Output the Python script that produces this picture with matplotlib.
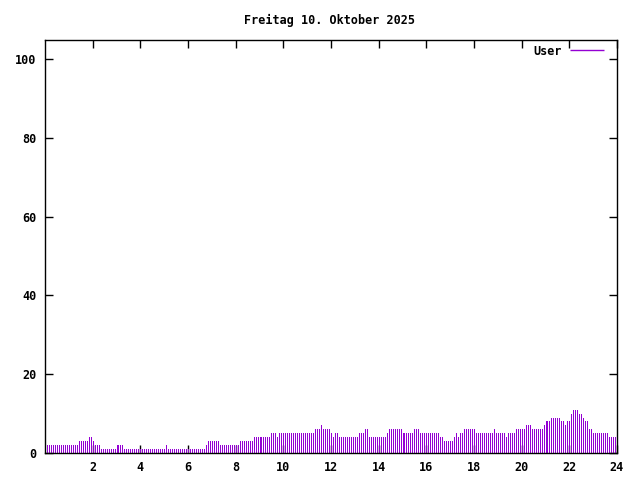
import numpy as np
import matplotlib
matplotlib.use("Agg")
import matplotlib.pyplot as plt

# Werte alle 5 Minuten (12 pro Stunde)
user = [
    2, 2, 2, 2, 2, 2, 2, 2, 2, 2, 2, 2,   # 0 Uhr
    2, 2, 2, 2, 2, 3, 3, 3, 3, 3, 4, 4,   # 1
    3, 2, 2, 2, 1, 1, 1, 1, 1, 1, 1, 1,   # 2
    2, 2, 2, 2, 1, 1, 1, 1, 1, 1, 1, 1,   # 3
    1, 1, 1, 1, 1, 1, 1, 1, 1, 1, 1, 1,   # 4
    1, 2, 1, 1, 1, 1, 1, 1, 1, 1, 1, 1,   # 5
    1, 1, 1, 1, 1, 1, 1, 1, 1, 2, 3, 3,   # 6
    3, 3, 3, 3, 2, 2, 2, 2, 2, 2, 2, 2,   # 7
    2, 2, 3, 3, 3, 3, 3, 3, 3, 4, 4, 4,   # 8
    4, 4, 4, 4, 4, 4, 5, 5, 5, 4, 5, 5,   # 9
    5, 5, 5, 5, 5, 5, 5, 5, 5, 5, 5, 5,   # 10
    5, 5, 5, 5, 6, 6, 6, 7, 6, 6, 6, 6,   # 11
    5, 4, 5, 5, 4, 4, 4, 4, 4, 4, 4, 4,   # 12
    4, 4, 5, 5, 5, 6, 6, 4, 4, 4, 4, 4,   # 13
    4, 4, 4, 4, 5, 6, 6, 6, 6, 6, 6, 6,   # 14
    5, 5, 5, 5, 5, 5, 6, 6, 6, 5, 5, 5,   # 15
    5, 5, 5, 5, 5, 5, 5, 4, 4, 3, 3, 3,   # 16
    3, 3, 4, 5, 4, 5, 5, 6, 6, 6, 6, 6,   # 17
    6, 5, 5, 5, 5, 5, 5, 5, 5, 5, 6, 5,   # 18
    5, 5, 5, 5, 4, 5, 5, 5, 5, 6, 6, 6,   # 19
    6, 6, 7, 7, 7, 6, 6, 6, 6, 6, 6, 7,   # 20
    8, 8, 8, 9, 9, 9, 9, 9, 8, 8, 7, 8,   # 21
    8, 10, 11, 11, 11, 10, 10, 9, 8, 8, 6, 6,  # 22
    5, 5, 5, 5, 5, 5, 5, 5, 4, 4, 4, 4,   # 23
]
hours = np.arange(len(user)) / 12.0

title = "Freitag 10. Oktober 2025"
xticks = list(range(2, 25, 2))
yticks = list(range(0, 101, 20))

plt.rcParams['font.family'] = ['DejaVu Sans Mono']
fig = plt.figure(figsize=(6.4, 4.8), dpi=100)
ax = fig.add_axes([45 / 640, 27 / 480, 572 / 640, 413 / 480])

ax.vlines(hours, 0, user, color='#9400d3', linewidth=0.72, label='User',
          antialiased=False)

ax.set_xlim(0, 24)
ax.set_ylim(0, 104.8)
ax.set_xticks(xticks)
ax.set_yticks(yticks)
ax.tick_params(direction='in', length=6, width=1, top=True, right=True,
               labelsize=8.5, pad=6)
for lab in ax.get_xticklabels() + ax.get_yticklabels():
    lab.set_fontweight('bold')
for s in ax.spines.values():
    s.set_linewidth(1)

fig.text(330 / 640, 1 - 20 / 480, title, ha='center', va='center',
         fontsize=8.5, fontweight='bold')

leg = ax.legend(loc='upper right', bbox_to_anchor=(1 - 9 / 572, 1 - 1 / 413),
                frameon=False, handlelength=2.9,
                borderaxespad=0.0, borderpad=0.3, handletextpad=0.7,
                prop={'size': 8.5, 'weight': 'bold'}, markerfirst=False)
for h in leg.legend_handles:
    h.set_linewidth(1)

fig.savefig('out.png', dpi=100)
